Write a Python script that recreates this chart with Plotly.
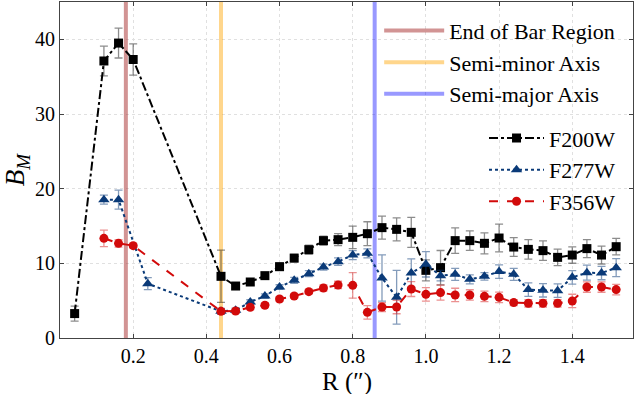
import plotly.graph_objects as go

# ---- data ----
r_200 = [0.04, 0.12, 0.16, 0.20, 0.44, 0.48, 0.52, 0.56, 0.60, 0.64, 0.68, 0.72, 0.76, 0.80, 0.84,
         0.88, 0.92, 0.96, 1.00, 1.04, 1.08, 1.12, 1.16, 1.20, 1.24, 1.28, 1.32, 1.36, 1.40, 1.44, 1.48, 1.52]
b_200 = [3.27, 37.1, 39.5, 37.3, 8.26, 6.96, 7.5, 8.35, 9.55, 10.7, 11.83, 13.04, 13.17, 13.48, 13.97,
         14.78, 14.55, 14.15, 9.06, 9.42, 13.04, 13.04, 12.68, 13.39, 12.18, 11.87, 11.7, 10.8, 11.11, 11.97, 11.11, 12.23]
e_200 = [1.0, 2.0, 2.0, 2.1, 3.5, 0.4, 0.4, 0.4, 0.5, 0.5, 0.6, 0.6, 0.8, 1.5, 1.6,
         1.55, 1.55, 2.0, 1.4, 2.3, 1.7, 1.3, 1.4, 1.85, 1.25, 1.3, 1.3, 1.1, 1.1, 1.2, 1.2, 1.1]

r_277 = [0.12, 0.16, 0.24, 0.44, 0.48, 0.52, 0.56, 0.60, 0.64, 0.68, 0.72, 0.76, 0.80, 0.84,
         0.88, 0.92, 0.96, 1.00, 1.04, 1.08, 1.12, 1.16, 1.20, 1.24, 1.28, 1.32, 1.36, 1.40, 1.44, 1.48, 1.52]
b_277 = [18.53, 18.53, 7.28, 3.57, 3.7, 4.82, 5.62, 6.83, 7.72, 8.62, 9.5, 10.22, 11.11, 11.34,
         8.03, 5.45, 8.7, 9.87, 8.35, 8.53, 7.86, 8.26, 8.89, 8.53, 6.48, 6.39, 6.34, 8.12, 8.75, 8.7, 9.42]
e_277 = [0.6, 1.27, 0.8, 0.4, 0.3, 0.3, 0.3, 0.3, 0.4, 0.4, 0.4, 0.5, 0.6, 0.6,
         3.1, 3.6, 1.9, 1.7, 0.7, 0.8, 0.6, 0.5, 0.9, 0.8, 0.9, 0.9, 0.9, 0.9, 1.0, 0.9, 1.2]

r_356 = [0.12, 0.16, 0.20, 0.44, 0.48, 0.52, 0.56, 0.60, 0.64, 0.68, 0.72, 0.76, 0.80, 0.84,
         0.88, 0.92, 0.96, 1.00, 1.04, 1.08, 1.12, 1.16, 1.20, 1.24, 1.28, 1.32, 1.36, 1.40, 1.44, 1.48, 1.52]
b_356 = [13.35, 12.68, 12.37, 3.57, 3.61, 4.11, 4.38, 5.22, 5.62, 6.21, 6.7, 7.1, 7.05, 3.44,
         4.15, 4.15, 6.56, 5.85, 6.08, 5.76, 5.76, 5.58, 5.45, 4.74, 4.65, 4.65, 4.65, 4.96, 6.83, 6.83, 6.48]
e_356 = [1.1, 0.5, 0.3, 0.3, 0.3, 0.3, 0.3, 0.3, 0.3, 0.3, 0.4, 0.5, 1.7, 0.9,
         0.6, 0.9, 1.0, 0.9, 1.0, 0.9, 0.7, 0.7, 0.7, 0.4, 0.5, 0.5, 0.5, 0.9, 0.7, 0.7, 0.7]

vline_names = ["End of Bar Region", "Semi-minor Axis", "Semi-major Axis"]
vline_x = [0.18, 0.44, 0.86]
vline_colors = ["rgba(165,42,42,0.5)", "rgba(255,165,0,0.45)", "rgba(0,0,255,0.4)"]

x_ticks = [0.2, 0.4, 0.6, 0.8, 1.0, 1.2, 1.4]
y_ticks = [0, 10, 20, 30, 40]
x_range = [0, 1.566]
y_range = [0, 45]

FONT = "Liberation Serif, Times New Roman, DejaVu Serif, serif"

fig = go.Figure()

for i, (nm, xv, col) in enumerate(zip(vline_names, vline_x, vline_colors)):
    fig.add_trace(go.Scatter(
        x=[xv, xv], y=y_range, mode="lines", name=nm,
        line=dict(color=col, width=4),
        legend="legend", legendgroup=f"v{i}", hoverinfo="skip"))

series = [
    ("F200W", r_200, b_200, e_200, "black", "rgba(0,0,0,0.45)", "dashdot", "square", 9),
    ("F277W", r_277, b_277, e_277, "#0a3a78", "rgba(10,58,120,0.5)", "dot", "triangle-up", 10),
    ("F356W", r_356, b_356, e_356, "#d20a0a", "rgba(210,10,10,0.45)", "dash", "circle", 9),
]
for i, (nm, xs, ys, es, col, ecol, dash, sym, ms) in enumerate(series):
    fig.add_trace(go.Scatter(
        x=xs, y=ys, mode="lines+markers", name=nm,
        line=dict(color=col, width=2, dash=dash),
        marker=dict(symbol=sym, size=ms, color=col),
        error_y=dict(type="data", array=es, visible=True, color=ecol, thickness=1.3, width=4),
        legend="legend2", legendgroup=f"s{i}"))

axis_common = dict(
    showline=True, linecolor="#444", linewidth=1.2, mirror="allticks",
    ticks="inside", ticklen=4, tickcolor="#444",
    showgrid=True, gridcolor="#e0e0e0", griddash="dot", gridwidth=1,
    zeroline=False,
    tickfont=dict(family=FONT, size=20, color="black"),
)

fig.update_layout(
    width=634, height=394,
    margin=dict(l=60, r=1, t=2, b=56),
    paper_bgcolor="white", plot_bgcolor="white",
    font=dict(family=FONT, color="black"),
    xaxis=dict(range=x_range, tickvals=x_ticks, ticktext=[f"{v:.1f}" for v in x_ticks],
               **axis_common),
    yaxis=dict(range=y_range, tickvals=y_ticks,
               title=dict(text="<i>B<sub>M</sub></i>", font=dict(family=FONT, size=27), standoff=8),
               **axis_common),
    legend=dict(x=0.557, y=0.977, xanchor="left", yanchor="top",
                bgcolor="rgba(255,255,255,0)", font=dict(family=FONT, size=22),
                tracegroupgap=0, itemwidth=60),
    legend2=dict(x=0.74, y=0.657, xanchor="left", yanchor="top",
                 bgcolor="rgba(255,255,255,0)", font=dict(family=FONT, size=22),
                 tracegroupgap=0, itemwidth=55),
    showlegend=True,
    annotations=[dict(text="R (″)", xref="paper", yref="paper", x=0.5, y=-0.083,
                      xanchor="center", yanchor="top", showarrow=False,
                      font=dict(family=FONT, size=25, color="black"))],
)

fig.write_html("out.html")
